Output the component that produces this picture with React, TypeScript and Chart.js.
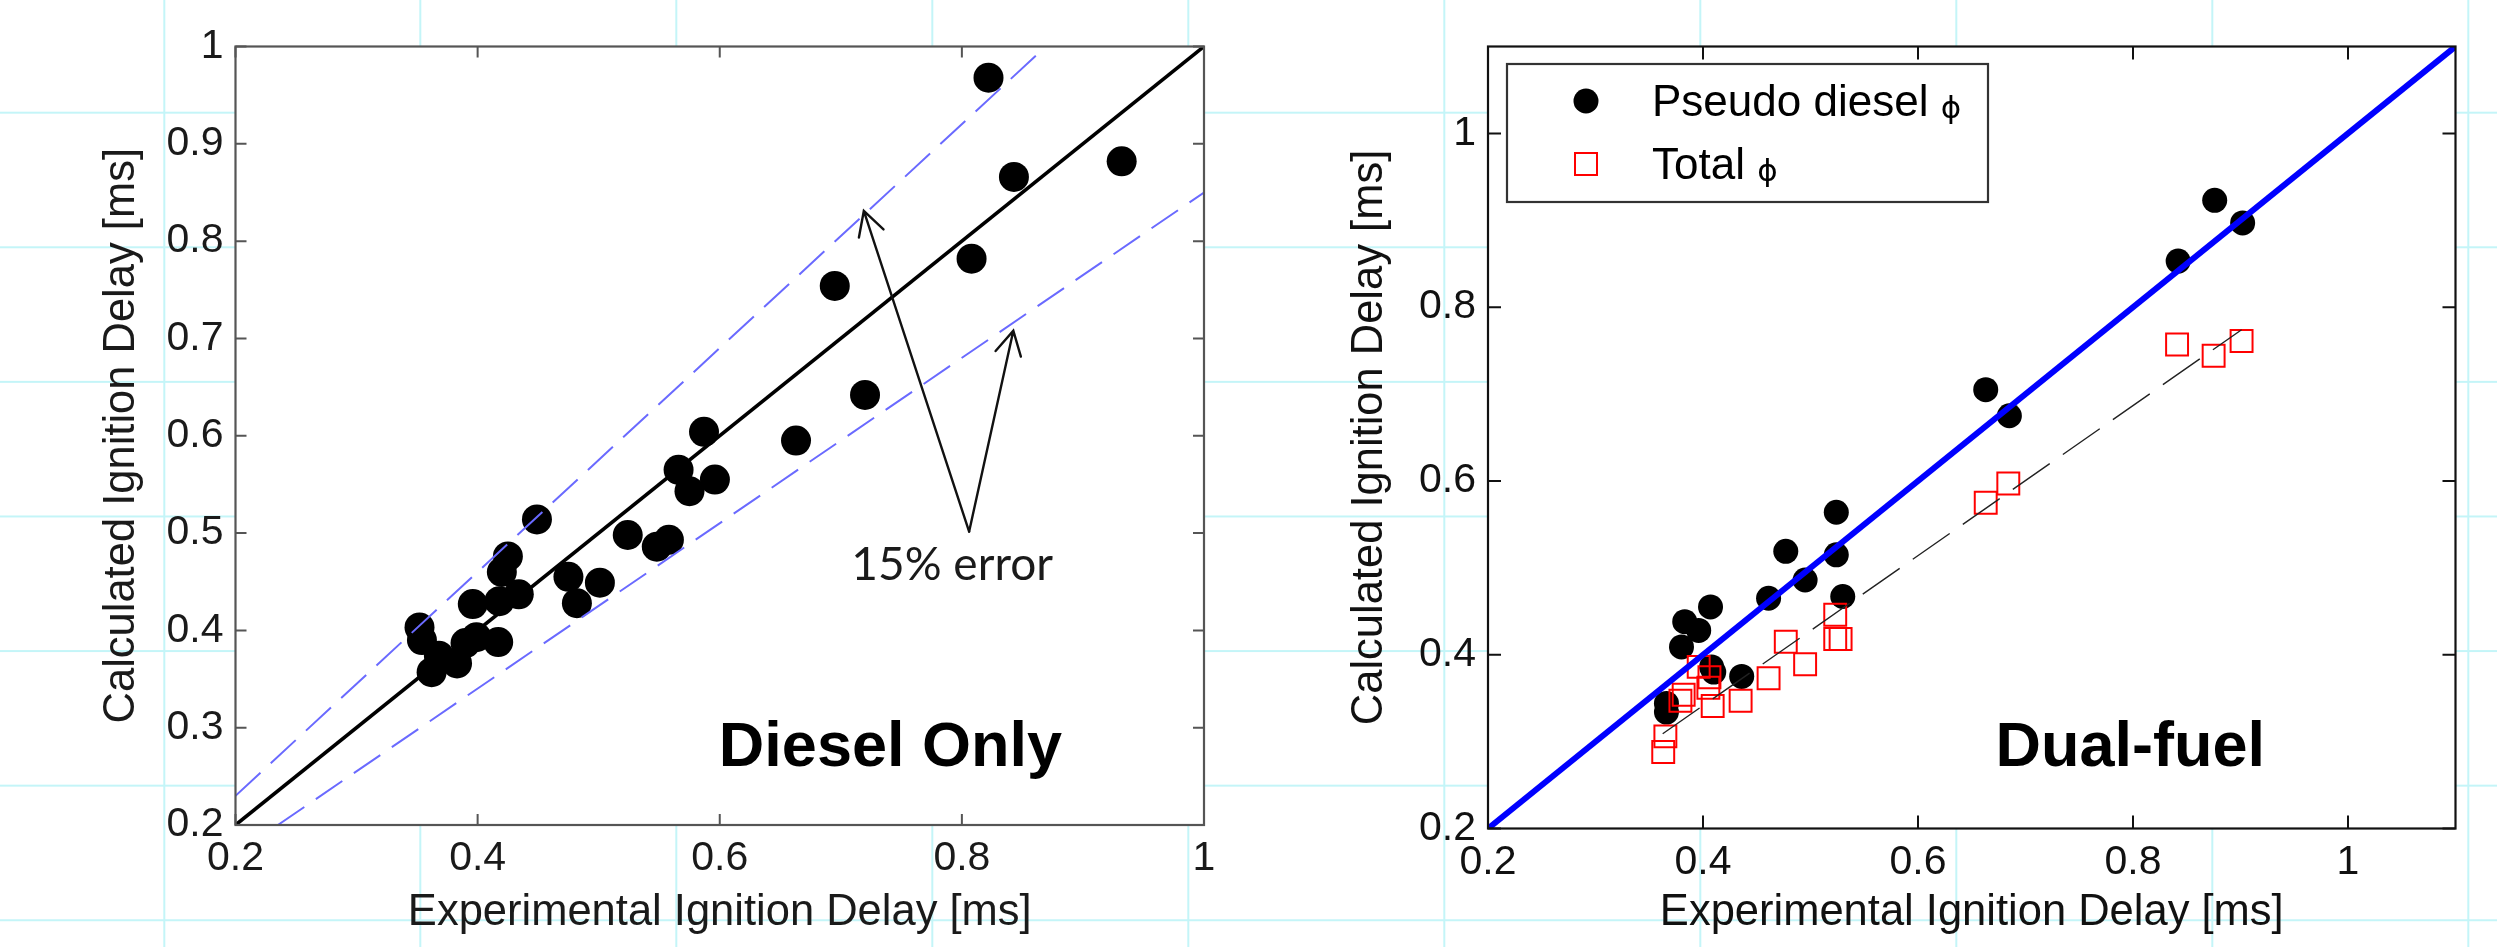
import React, { useEffect, useRef } from 'react';
import { Chart, registerables } from 'chart.js';

Chart.register(...registerables);

// ---------------- Left panel: Diesel only ----------------
const dieselExp = [0.352, 0.354, 0.362, 0.368, 0.383, 0.390, 0.399, 0.396, 0.417, 0.418, 0.434, 0.420, 0.425, 0.449, 0.475, 0.482, 0.501, 0.524, 0.548, 0.558, 0.566, 0.575, 0.596, 0.587, 0.663, 0.695, 0.720, 0.808, 0.822, 0.843, 0.932];
const dieselCalc = [0.403, 0.390, 0.357, 0.374, 0.366, 0.387, 0.393, 0.427, 0.388, 0.430, 0.437, 0.460, 0.476, 0.514, 0.455, 0.428, 0.449, 0.498, 0.486, 0.493, 0.565, 0.543, 0.555, 0.604, 0.595, 0.754, 0.642, 0.782, 0.968, 0.866, 0.882];
const parityLeftX = [0.2, 1.0];
const parityLeftY = [0.2, 1.0];
const upperErrX = [0.2, 0.865];
const upperErrY = [0.23, 0.995];
const lowerErrX = [0.235, 1.0];
const lowerErrY = [0.2, 0.85];
const leftXTicks = [0.2, 0.4, 0.6, 0.8, 1.0];
const leftXTickLabels = ['0.2', '0.4', '0.6', '0.8', '1'];
const leftYTicks = [0.2, 0.3, 0.4, 0.5, 0.6, 0.7, 0.8, 0.9, 1.0];
const leftYTickLabels = ['0.2', '0.3', '0.4', '0.5', '0.6', '0.7', '0.8', '0.9', '1'];
const errLabel = '15% error';
const errLabelAt = [0.792, 0.452];
const arrowBase = [0.806, 0.5015];
const arrowTipX = [0.719, 0.8425];
const arrowTipY = [0.831, 0.708];
const leftPanelLabel = 'Diesel Only';
const leftPanelLabelAt = [0.741, 0.261];

// ---------------- Right panel: Dual-fuel ----------------
const pseudoExp = [0.366, 0.366, 0.380, 0.383, 0.396, 0.407, 0.408, 0.410, 0.436, 0.461, 0.477, 0.495, 0.524, 0.524, 0.530, 0.663, 0.685, 0.842, 0.876, 0.902];
const pseudoCalc = [0.344, 0.334, 0.409, 0.438, 0.428, 0.455, 0.386, 0.380, 0.375, 0.465, 0.519, 0.486, 0.564, 0.515, 0.467, 0.705, 0.675, 0.853, 0.923, 0.897];
const totalExp = [0.363, 0.365, 0.379, 0.382, 0.396, 0.406, 0.405, 0.409, 0.435, 0.461, 0.477, 0.495, 0.523, 0.523, 0.528, 0.663, 0.684, 0.841, 0.875, 0.901];
const totalCalc = [0.288, 0.306, 0.347, 0.354, 0.386, 0.374, 0.362, 0.341, 0.347, 0.373, 0.415, 0.389, 0.446, 0.418, 0.418, 0.575, 0.597, 0.757, 0.744, 0.761];
const parityRightX = [0.2, 1.1];
const parityRightY = [0.2, 1.1];
const totalFitX = [0.3625, 0.901];
const totalFitY = [0.309, 0.774];
const rightXTicks = [0.2, 0.4, 0.6, 0.8, 1.0];
const rightXTickLabels = ['0.2', '0.4', '0.6', '0.8', '1'];
const rightYTicks = [0.2, 0.4, 0.6, 0.8, 1.0];
const rightYTickLabels = ['0.2', '0.4', '0.6', '0.8', '1'];
const seriesLabels = ['Pseudo diesel', 'Total'];
const PHI = '\u03D5';
const rightPanelLabel = 'Dual-fuel';
const rightPanelLabelAt = [0.7975, 0.2716];

const X_TITLE = 'Experimental Ignition Delay [ms]';
const Y_TITLE = 'Calculated Ignition Delay [ms]';

const pts = (xs: number[], ys: number[]) => xs.map((x, i) => ({ x, y: ys[i] }));

const framePlugin = (color: string, tickLen: number) => ({
  id: 'frame',
  beforeDraw(chart: any) {
    const { ctx, chartArea: a } = chart;
    ctx.save();
    ctx.fillStyle = '#ffffff';
    ctx.fillRect(a.left, a.top, a.right - a.left, a.bottom - a.top);
    ctx.restore();
  },
  afterDatasetsDraw(chart: any) {
    const { ctx, chartArea: a, scales } = chart;
    const x = scales.x;
    const y = scales.y;
    ctx.save();
    ctx.strokeStyle = color;
    ctx.lineWidth = 2;
    ctx.beginPath();
    x.ticks.forEach((t: any) => {
      const p = x.getPixelForValue(t.value);
      ctx.moveTo(p, a.bottom);
      ctx.lineTo(p, a.bottom - tickLen);
      ctx.moveTo(p, a.top);
      ctx.lineTo(p, a.top + tickLen);
    });
    y.ticks.forEach((t: any) => {
      const p = y.getPixelForValue(t.value);
      ctx.moveTo(a.left, p);
      ctx.lineTo(a.left + tickLen, p);
      ctx.moveTo(a.right, p);
      ctx.lineTo(a.right - tickLen, p);
    });
    ctx.stroke();
    ctx.lineWidth = 2.2;
    ctx.strokeRect(a.left, a.top, a.right - a.left, a.bottom - a.top);
    ctx.restore();
  },
});

function drawArrow(ctx: CanvasRenderingContext2D, x0: number, y0: number, x1: number, y1: number, len: number, ang: number) {
  const a = Math.atan2(y0 - y1, x0 - x1);
  ctx.beginPath();
  ctx.moveTo(x0, y0);
  ctx.lineTo(x1, y1);
  ctx.moveTo(x1 + len * Math.cos(a + ang), y1 + len * Math.sin(a + ang));
  ctx.lineTo(x1, y1);
  ctx.lineTo(x1 + len * Math.cos(a - ang), y1 + len * Math.sin(a - ang));
  ctx.stroke();
}

const leftAnnotations = {
  id: 'leftAnno',
  afterDatasetsDraw(chart: any) {
    const { ctx, scales } = chart;
    const x = scales.x;
    const y = scales.y;
    ctx.save();
    ctx.strokeStyle = '#111';
    ctx.lineWidth = 2.4;
    ctx.lineCap = 'round';
    const bx = x.getPixelForValue(arrowBase[0]);
    const by = y.getPixelForValue(arrowBase[1]);
    arrowTipX.forEach((tx, i) => {
      drawArrow(ctx, bx, by, x.getPixelForValue(tx), y.getPixelForValue(arrowTipY[i]), 27, 0.5);
    });
    ctx.fillStyle = '#1a1a1a';
    ctx.textAlign = 'center';
    ctx.textBaseline = 'alphabetic';
    ctx.font = '46px Lato';
    ctx.fillText(errLabel, x.getPixelForValue(errLabelAt[0]), y.getPixelForValue(errLabelAt[1]));
    ctx.fillStyle = '#000';
    ctx.font = 'bold 63px "Liberation Sans"';
    ctx.fillText(leftPanelLabel, x.getPixelForValue(leftPanelLabelAt[0]), y.getPixelForValue(leftPanelLabelAt[1]));
    ctx.restore();
  },
};

const rightAnnotations = {
  id: 'rightAnno',
  afterDatasetsDraw(chart: any) {
    const { ctx, scales, chartArea: a } = chart;
    const x = scales.x;
    const y = scales.y;
    ctx.save();
    ctx.fillStyle = '#000';
    ctx.textAlign = 'center';
    ctx.textBaseline = 'alphabetic';
    ctx.font = 'bold 63px "Liberation Sans"';
    ctx.fillText(rightPanelLabel, x.getPixelForValue(rightPanelLabelAt[0]), y.getPixelForValue(rightPanelLabelAt[1]));

    // legend box
    const lx = a.left + 19;
    const ly = a.top + 17.5;
    const lw = 481;
    const lh = 138;
    ctx.fillStyle = '#fff';
    ctx.fillRect(lx, ly, lw, lh);
    ctx.strokeStyle = '#333';
    ctx.lineWidth = 2.2;
    ctx.strokeRect(lx, ly, lw, lh);

    // row 1: filled circle
    ctx.fillStyle = '#000';
    ctx.beginPath();
    ctx.arc(lx + 79, ly + 37, 12.5, 0, Math.PI * 2);
    ctx.fill();
    // row 2: hollow red square
    ctx.strokeStyle = '#ff0000';
    ctx.lineWidth = 2;
    ctx.strokeRect(lx + 79 - 11, ly + 100 - 11, 22, 22);

    ctx.textAlign = 'left';
    ctx.fillStyle = '#000';
    const rowsBase = [52, 115];
    seriesLabels.forEach((lab, i) => {
      ctx.font = '44px "Liberation Sans"';
      const tx = lx + 145;
      const ty = ly + rowsBase[i];
      ctx.fillText(lab, tx, ty);
      const w = ctx.measureText(lab + ' ').width;
      ctx.font = '31px "DejaVu Sans"';
      ctx.fillText(PHI, tx + w, ty + 2);
    });
    ctx.restore();
  },
};

const tickFont = { family: 'Liberation Sans', size: 41 };
const titleFont = { family: 'Liberation Sans', size: 43.5 };

function makeScales(opts: {
  xMin: number; xMax: number; yMin: number; yMax: number;
  xTicks: number[]; xLabels: string[]; yTicks: number[]; yLabels: string[];
  yAxisW: number; xAxisH: number; yTitlePad: number; color: string;
}) {
  return {
    x: {
      type: 'linear',
      position: 'bottom',
      min: opts.xMin,
      max: opts.xMax,
      afterBuildTicks: (s: any) => { s.ticks = opts.xTicks.map((v) => ({ value: v })); },
      afterFit: (s: any) => { s.height = opts.xAxisH; },
      grid: { display: false, drawTicks: false, tickLength: 0 },
      border: { display: false },
      ticks: {
        autoSkip: false,
        maxRotation: 0,
        padding: 9.5,
        color: opts.color,
        font: tickFont,
        callback: (v: number) => opts.xLabels[opts.xTicks.indexOf(v)] ?? '',
      },
      title: { display: true, text: X_TITLE, color: opts.color, font: titleFont, padding: { top: 0, bottom: 8 } },
    },
    y: {
      type: 'linear',
      position: 'left',
      min: opts.yMin,
      max: opts.yMax,
      afterBuildTicks: (s: any) => { s.ticks = opts.yTicks.map((v) => ({ value: v })); },
      afterFit: (s: any) => { s.width = opts.yAxisW; },
      grid: { display: false, drawTicks: false, tickLength: 0 },
      border: { display: false },
      ticks: {
        autoSkip: false,
        padding: 12,
        color: opts.color,
        font: tickFont,
        callback: (v: number) => opts.yLabels[opts.yTicks.indexOf(v)] ?? '',
      },
      title: { display: true, text: Y_TITLE, color: opts.color, font: titleFont, padding: { top: opts.yTitlePad, bottom: 0 } },
    },
  };
}

function leftConfig(): any {
  return {
    type: 'scatter',
    data: {
      datasets: [
        { label: 'y = x', data: pts(parityLeftX, parityLeftY), showLine: true, borderColor: '#000', borderWidth: 3.6, pointRadius: 0, order: 0 },
        { label: '+15%', data: pts(upperErrX, upperErrY), showLine: true, borderColor: '#6a6aff', borderWidth: 2, borderDash: [34, 14], pointRadius: 0, order: 0 },
        { label: '-15%', data: pts(lowerErrX, lowerErrY), showLine: true, borderColor: '#6a6aff', borderWidth: 2, borderDash: [32, 14], pointRadius: 0, order: 0 },
        { label: 'Diesel only', data: pts(dieselExp, dieselCalc), showLine: false, pointRadius: 15, pointBackgroundColor: '#000', pointBorderWidth: 0, order: 1 },
      ],
    },
    options: {
      responsive: false,
      animation: false,
      devicePixelRatio: 1,
      events: [],
      layout: { padding: { left: 0, top: 46.5, right: 46, bottom: 0 } },
      plugins: { legend: { display: false }, tooltip: { enabled: false } },
      scales: makeScales({
        xMin: 0.2, xMax: 1.0, yMin: 0.2, yMax: 1.0,
        xTicks: leftXTicks, xLabels: leftXTickLabels, yTicks: leftYTicks, yLabels: leftYTickLabels,
        yAxisW: 235.5, xAxisH: 122, yTitlePad: 96, color: '#1a1a1a',
      }),
    },
    plugins: [framePlugin('#555555', 11), leftAnnotations],
  };
}

function rightConfig(): any {
  return {
    type: 'scatter',
    data: {
      datasets: [
        { label: 'y = x', data: pts(parityRightX, parityRightY), showLine: true, borderColor: '#0000ff', borderWidth: 6, pointRadius: 0, order: 0 },
        { label: 'Total fit', data: pts(totalFitX, totalFitY), showLine: true, borderColor: '#222', borderWidth: 1.4, borderDash: [45, 16], pointRadius: 0, order: 1 },
        { label: seriesLabels[1], data: pts(totalExp, totalCalc), showLine: false, pointStyle: 'rect', pointRadius: 15.5, pointBackgroundColor: 'rgba(0,0,0,0)', pointBorderColor: '#ff0000', pointBorderWidth: 2, order: 2 },
        { label: seriesLabels[0], data: pts(pseudoExp, pseudoCalc), showLine: false, pointRadius: 12.5, pointBackgroundColor: '#000', pointBorderWidth: 0, order: 3 },
      ],
    },
    options: {
      responsive: false,
      animation: false,
      devicePixelRatio: 1,
      events: [],
      layout: { padding: { left: 0, top: 46.5, right: 41.5, bottom: 0 } },
      plugins: { legend: { display: false }, tooltip: { enabled: false } },
      scales: makeScales({
        xMin: 0.2, xMax: 1.1, yMin: 0.2, yMax: 1.1,
        xTicks: rightXTicks, xLabels: rightXTickLabels, yTicks: rightYTicks, yLabels: rightYTickLabels,
        yAxisW: 238, xAxisH: 118.5, yTitlePad: 94, color: '#111111',
      }),
    },
    plugins: [framePlugin('#111111', 13), rightAnnotations],
  };
}

const GRID = 'rgb(196, 245, 248)';

export default function App() {
  const leftRef = useRef<HTMLCanvasElement>(null);
  const rightRef = useRef<HTMLCanvasElement>(null);

  useEffect(() => {
    const c1 = new Chart(leftRef.current as HTMLCanvasElement, leftConfig());
    const c2 = new Chart(rightRef.current as HTMLCanvasElement, rightConfig());
    return () => {
      c1.destroy();
      c2.destroy();
    };
  }, []);

  return (
    <div
      style={{
        position: 'absolute',
        left: 0,
        top: 0,
        width: 2497,
        height: 947,
        overflow: 'hidden',
        backgroundColor: '#ffffff',
        backgroundImage: `linear-gradient(to right, ${GRID} 0px, ${GRID} 2px, transparent 2px), linear-gradient(to bottom, ${GRID} 0px, ${GRID} 2px, transparent 2px)`,
        backgroundSize: '256px 100%, 100% 134.6px',
        backgroundPosition: '163.3px 0px, 0px 111.7px',
      }}
    >
      <canvas ref={leftRef} width={1250} height={947} style={{ position: 'absolute', left: 0, top: 0, width: 1250, height: 947 }} />
      <canvas ref={rightRef} width={1247} height={947} style={{ position: 'absolute', left: 1250, top: 0, width: 1247, height: 947 }} />
    </div>
  );
}
